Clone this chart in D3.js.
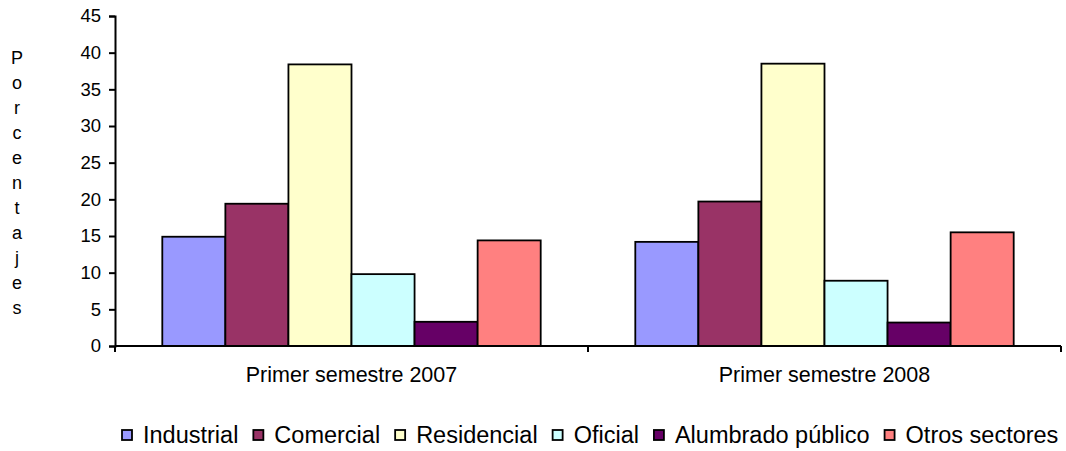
<!DOCTYPE html>
<html>
<head>
<meta charset="utf-8">
<script src="https://cdn.jsdelivr.net/npm/d3@7"></script>
<style>
  body { margin: 0; background: #fff; }
  svg text { font-family: Arial, "Liberation Sans", sans-serif; fill: #000; }
</style>
</head>
<body>
<svg id="chart" width="1066" height="451"></svg>
<script>
var periods = ["Primer semestre 2007", "Primer semestre 2008"];
var sectors = ["Industrial", "Comercial", "Residencial", "Oficial", "Alumbrado público", "Otros sectores"];
var colors = ["#9999FF", "#993366", "#FFFFCC", "#CCFFFF", "#660066", "#FF8080"];
var values2007 = [14.9, 19.4, 38.4, 9.8, 3.3, 14.4];
var values2008 = [14.2, 19.7, 38.5, 8.9, 3.2, 15.5];
var yTicks = [0, 5, 10, 15, 20, 25, 30, 35, 40, 45];
var yLabel = "Porcentajes";

var svg = d3.select("#chart");
var mLeft = 115, mRight = 1061, mTop = 16, mBottom = 346;

var x0 = d3.scaleBand().domain(periods).range([mLeft, mRight])
    .paddingInner(0.2).paddingOuter(0.1);
var x1 = d3.scaleBand().domain(sectors).range([0, x0.bandwidth()]);
var y = d3.scaleLinear().domain([0, 45]).range([mBottom, mTop]);

var rows = periods.map(function(p, i) {
    var vals = i === 0 ? values2007 : values2008;
    return { period: p, vals: vals };
});

// bars
var groups = svg.selectAll("g.grp").data(rows).enter().append("g")
    .attr("class", "grp")
    .attr("transform", function(d) { return "translate(" + x0(d.period) + ",0)"; });
groups.selectAll("rect").data(function(d) {
    return d.vals.map(function(v, i) { return { sector: sectors[i], v: v, c: colors[i] }; });
}).enter().append("rect")
    .attr("x", function(d) { return x1(d.sector); })
    .attr("y", function(d) { return y(d.v); })
    .attr("width", x1.bandwidth())
    .attr("height", function(d) { return mBottom - y(d.v); })
    .attr("fill", function(d) { return d.c; })
    .attr("stroke", "#000")
    .attr("stroke-width", 1.8);

// y axis
var yAxis = svg.append("g").attr("transform", "translate(" + mLeft + ",0)")
    .call(d3.axisLeft(y).tickValues(yTicks).tickSize(6).tickPadding(8).tickFormat(d3.format("d")));
yAxis.select(".domain").attr("stroke", "#000").attr("stroke-width", 2);
yAxis.selectAll(".tick line").attr("stroke", "#000").attr("stroke-width", 2);
yAxis.selectAll(".tick text").style("font-size", "18.5px").attr("font-family", null);

// x axis: ticks between categories
var xAxis = svg.append("g").attr("transform", "translate(0," + mBottom + ")");
xAxis.append("line").attr("x1", mLeft).attr("x2", mRight).attr("stroke", "#000").attr("stroke-width", 2);
var bounds = [mLeft].concat(periods.map(function(p) { return x0(p) + x0.bandwidth() + x0.step() * 0.1; }));
xAxis.selectAll("line.tk").data(bounds).enter().append("line")
    .attr("class", "tk")
    .attr("x1", function(d) { return d; }).attr("x2", function(d) { return d; })
    .attr("y1", 0).attr("y2", 6).attr("stroke", "#000").attr("stroke-width", 2);
xAxis.selectAll("text").data(periods).enter().append("text")
    .attr("x", function(d) { return x0(d) + x0.bandwidth() / 2; })
    .attr("y", 36)
    .attr("text-anchor", "middle")
    .style("font-size", "21.5px")
    .text(function(d) { return d; });

// vertical y label, one letter per line
svg.append("g").selectAll("text").data(yLabel.split("")).enter().append("text")
    .attr("x", 17)
    .attr("y", function(d, i) { return 64 + i * 25; })
    .attr("text-anchor", "middle")
    .style("font-size", "18px")
    .text(function(d) { return d; });

// legend
var legend = svg.append("g");
var lx = 122;
sectors.forEach(function(s, i) {
    legend.append("rect").attr("x", lx).attr("y", 430).attr("width", 10).attr("height", 10)
        .attr("fill", colors[i]).attr("stroke", "#000").attr("stroke-width", 1.8);
    var t = legend.append("text").attr("x", lx + 21).attr("y", 443)
        .style("font-size", "23.5px").text(s);
    lx += 21 + t.node().getComputedTextLength() + 15;
});
</script>
</body>
</html>
